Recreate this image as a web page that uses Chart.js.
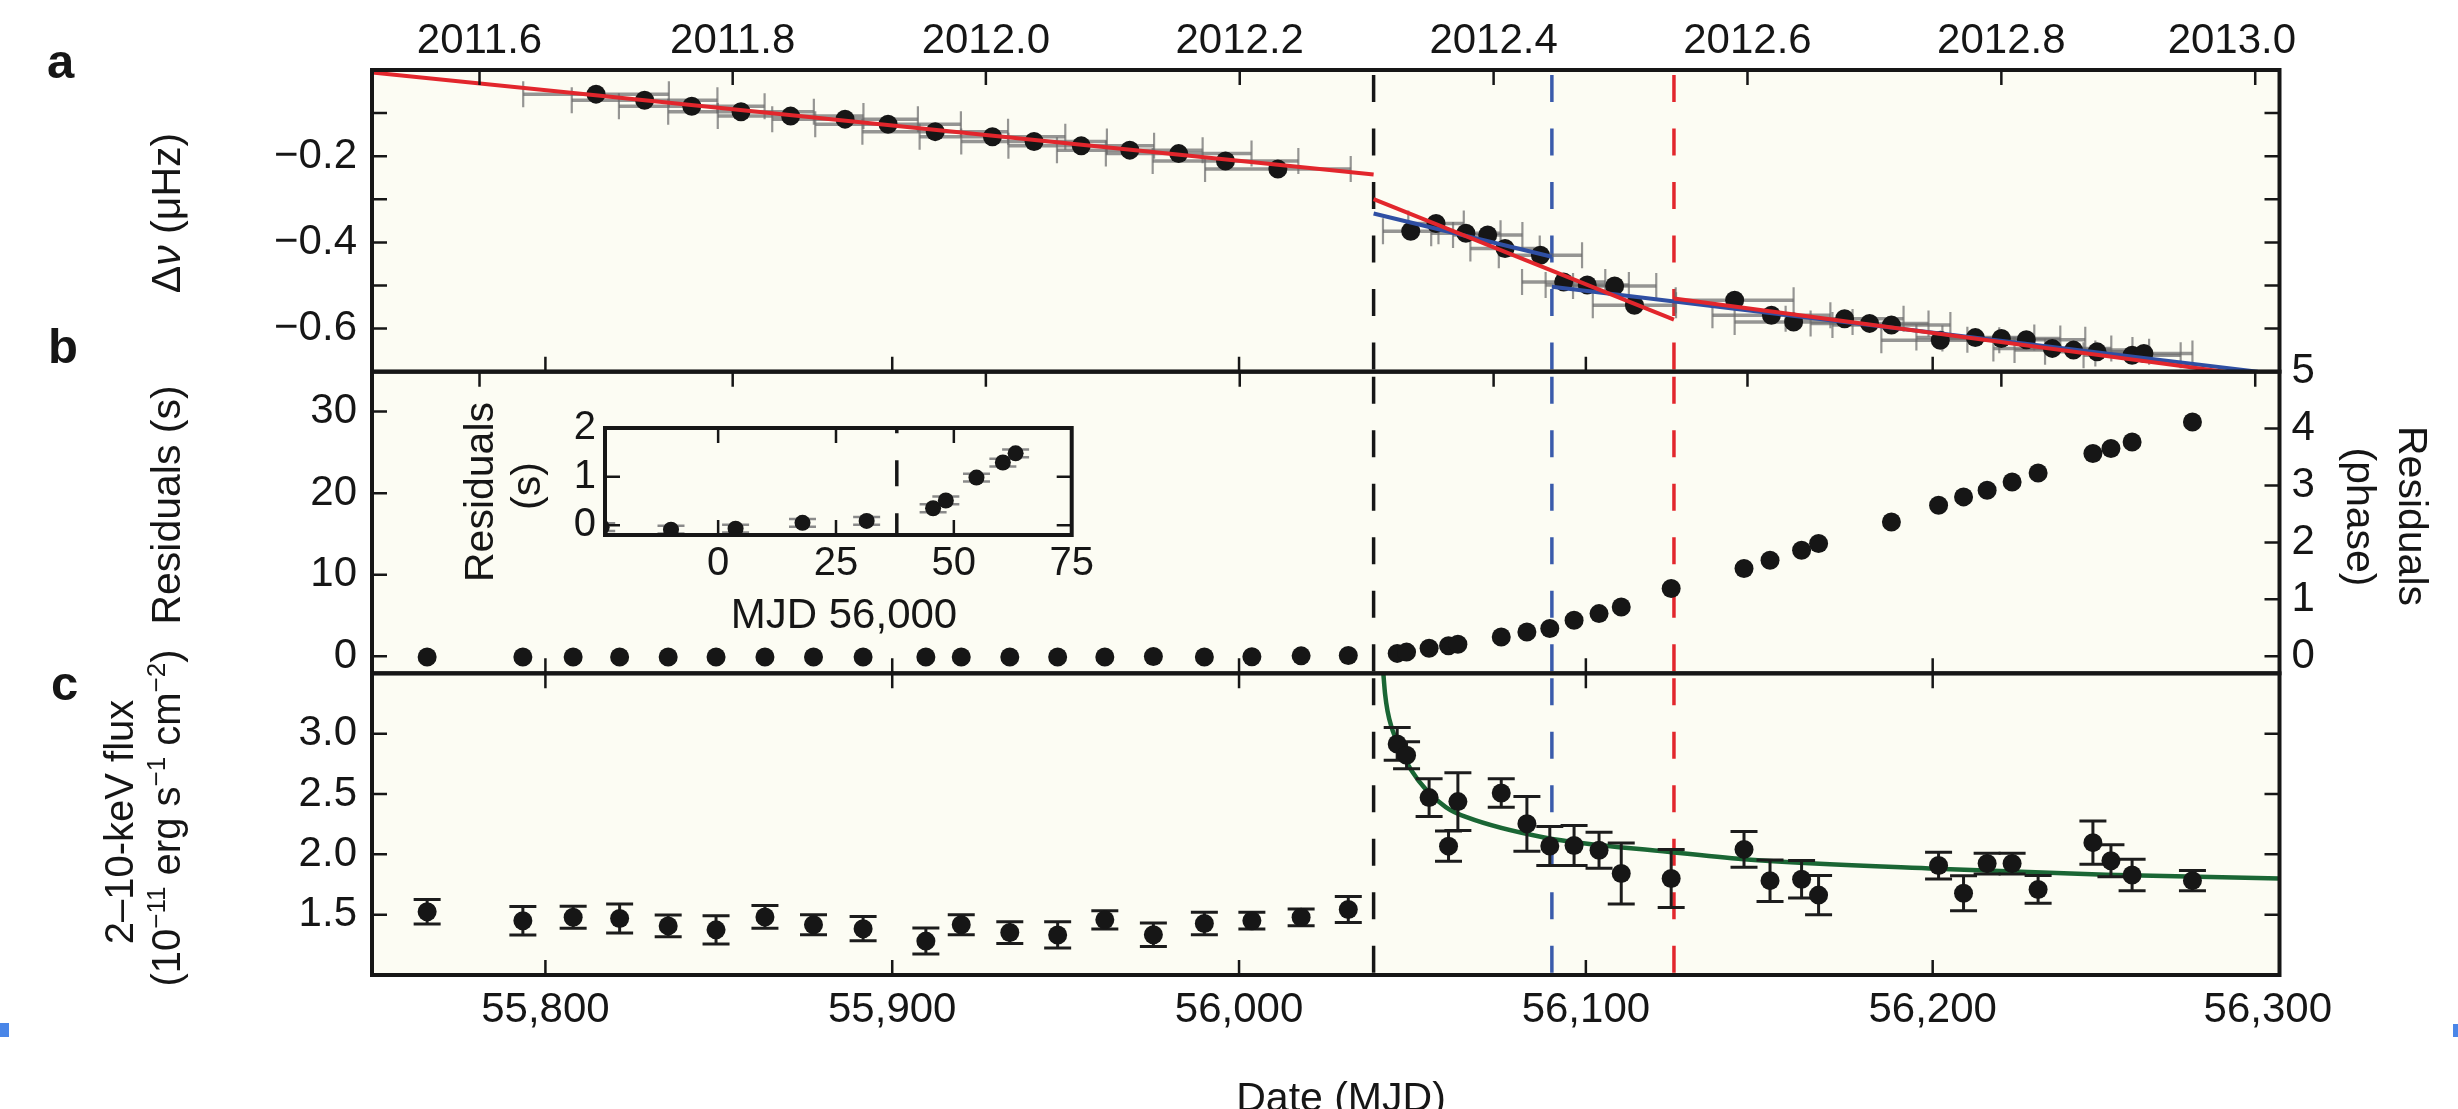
<!DOCTYPE html>
<html>
<head>
<meta charset="utf-8">
<title>Spin frequency, timing residuals and X-ray flux</title>
<script src="https://cdn.jsdelivr.net/npm/chart.js@4.4.1/dist/chart.umd.min.js"></script>
<style>
  html, body { margin: 0; padding: 0; background: #ffffff; }
  #figure { position: relative; width: 2458px; height: 1109px; overflow: hidden; }
  #figure canvas { position: absolute; }
  #main { left: 0; top: 0; }
  #inset { left: 480px; top: 395px; }
</style>
</head>
<body>
<div id="figure">
  <canvas id="main" width="2458" height="1109"></canvas>
  <canvas id="inset" width="620" height="245"></canvas>
</div>
<script>
// ---------- tick positions and labels ----------
const mjdTicks = [55800, 55900, 56000, 56100, 56200, 56300];
const mjdTickLabels = ['55,800', '55,900', '56,000', '56,100', '56,200', '56,300'];
const yearTicks = [2011.6, 2011.8, 2012.0, 2012.2, 2012.4, 2012.6, 2012.8, 2013.0];
const yearTickLabels = ['2011.6', '2011.8', '2012.0', '2012.2', '2012.4', '2012.6', '2012.8', '2013.0'];
const dnuTicks = [-0.6, -0.5, -0.4, -0.3, -0.2, -0.1];
const dnuTickLabels = ['\u22120.6', '', '\u22120.4', '', '\u22120.2', ''];
const residualTicks = [0, 10, 20, 30];
const residualTickLabels = ['0', '10', '20', '30'];
const phaseTicks = [0, 1, 2, 3, 4, 5];
const phaseTickLabels = ['0', '1', '2', '3', '4', '5'];
const fluxTicks = [1.5, 2.0, 2.5, 3.0];
const fluxTickLabels = ['1.5', '2.0', '2.5', '3.0'];
const insetXTicks = [0, 25, 50, 75];
const insetXTickLabels = ['0', '25', '50', '75'];
const insetYTicks = [0, 1, 2];
const insetYTickLabels = ['0', '1', '2'];

// ---------- event epochs (MJD): glitch, and the two later markers ----------
const eventMJD = [56038.8, 56090.2, 56125.4];
const eventColors = ['#161616', '#3a5bab', '#e2262c'];
const insetEventDay = 37.9;          // glitch epoch in the inset, days after MJD 56,000
const PULSE_PERIOD_S = 6.979;        // converts timing residuals between seconds and phase

// ---------- a: frequency offsets ----------
const dnuMJD = [55814.6, 55828.6, 55842.2, 55856.4, 55870.7, 55886.4, 55898.8, 55912.4, 55928.9, 55940.9,
                55954.5, 55968.5, 55982.6, 55996.1, 56011.2,
                56049.5, 56056.8, 56065.4, 56071.7, 56076.7, 56086.9, 56093.6, 56100.4, 56108.3, 56114.0,
                56142.9, 56153.5, 56159.9, 56174.6, 56181.8, 56188.1, 56202.2, 56212.3, 56219.8, 56227.0,
                56234.5, 56240.6, 56247.4, 56257.5, 56260.9];
const dnuValues = [-0.056, -0.070, -0.084, -0.097, -0.107, -0.114, -0.126, -0.143, -0.155, -0.166,
                   -0.176, -0.186, -0.194, -0.211, -0.230,
                   -0.374, -0.356, -0.379, -0.383, -0.414, -0.430, -0.492, -0.499, -0.501, -0.546,
                   -0.534, -0.569, -0.585, -0.577, -0.588, -0.592, -0.627, -0.621, -0.623, -0.626,
                   -0.646, -0.650, -0.654, -0.662, -0.658];
const dnuHalfSpanDays = [21, 21, 21, 21, 21, 21, 21, 21, 21, 21,
                         21, 21, 21, 21, 21,
                         8, 8, 10, 10, 10, 12, 12, 12, 12, 12,
                         17, 17, 17, 17, 17, 17, 17, 17, 17, 17,
                         17, 17, 15, 14, 14];
const redFitPre  = [[55750.0, -0.006], [56038.8, -0.2425]];
const redFitMid  = [[56038.8, -0.2997], [56125.4, -0.579]];
const redFitLate = [[56125.4, -0.530], [56284.0, -0.700]];
const blueFitMid  = [[56038.8, -0.333], [56090.2, -0.4335]];
const blueFitLate = [[56090.2, -0.503], [56293.7, -0.700]];

// ---------- b: timing residuals (s) ----------
const timingMJD = [55765.9, 55793.5, 55808.0, 55821.4, 55835.4, 55849.2, 55863.3, 55877.3, 55891.6, 55909.7,
                   55919.9, 55933.9, 55947.7, 55961.3, 55975.3, 55990.0, 56003.7, 56017.9, 56031.5,
                   56045.6, 56048.3, 56054.8, 56060.4, 56063.1, 56075.6, 56083.0, 56089.6, 56096.6, 56103.8,
                   56110.2, 56124.6, 56145.6, 56153.1, 56162.2, 56167.1, 56188.1, 56201.7, 56208.9, 56215.7,
                   56222.9, 56230.4, 56246.2, 56251.4, 56257.5, 56274.9];
const residualSec = [-0.10, -0.10, -0.10, -0.10, -0.10, -0.10, -0.10, -0.10, -0.10, -0.10,
                     -0.10, -0.10, -0.10, -0.10, -0.04, -0.09, -0.07, 0.05, 0.09,
                     0.35, 0.51, 0.98, 1.29, 1.48, 2.37, 2.98, 3.40, 4.41, 5.23,
                     6.05, 8.30, 10.75, 11.77, 13.00, 13.82, 16.47, 18.52, 19.54, 20.36,
                     21.37, 22.48, 24.86, 25.47, 26.28, 28.73];
const residualErrSec = [0.08, 0.08, 0.08, 0.08, 0.08, 0.08, 0.08, 0.08, 0.08, 0.08,
                        0.08, 0.08, 0.08, 0.08, 0.08, 0.08, 0.08, 0.08, 0.08,
                        0.08, 0.08, 0.08, 0.08, 0.08, 0.08, 0.08, 0.08, 0.08, 0.08,
                        0.08, 0.08, 0.08, 0.08, 0.08, 0.08, 0.08, 0.08, 0.08, 0.08,
                        0.08, 0.08, 0.08, 0.08, 0.08, 0.08];

// ---------- c: 2-10 keV flux ----------
const xrayMJD = [55765.9, 55793.5, 55808.0, 55821.4, 55835.4, 55849.2, 55863.3, 55877.3, 55891.6, 55909.7,
                 55919.9, 55933.9, 55947.7, 55961.3, 55975.3, 55990.0, 56003.7, 56017.9, 56031.5,
                 56045.6, 56048.3, 56054.8, 56060.4, 56063.1, 56075.6, 56083.0, 56089.6, 56096.6, 56103.8,
                 56110.2, 56124.6, 56145.6, 56153.1, 56162.2, 56167.1, 56201.7, 56208.9, 56215.7,
                 56222.9, 56230.4, 56246.2, 56251.4, 56257.5, 56274.9];
const fluxValues = [1.524, 1.449, 1.478, 1.468, 1.407, 1.374, 1.481, 1.417, 1.384, 1.281,
                    1.417, 1.352, 1.332, 1.457, 1.334, 1.427, 1.450, 1.478, 1.543,
                    2.915, 2.821, 2.470, 2.068, 2.437, 2.509, 2.253, 2.069, 2.073, 2.034,
                    1.841, 1.800, 2.041, 1.782, 1.793, 1.662, 1.907, 1.678, 1.924,
                    1.924, 1.709, 2.097, 1.947, 1.829, 1.782];
const fluxErrors = [0.101, 0.118, 0.091, 0.120, 0.090, 0.118, 0.094, 0.083, 0.100, 0.108,
                    0.083, 0.090, 0.109, 0.076, 0.097, 0.093, 0.069, 0.069, 0.107,
                    0.136, 0.111, 0.156, 0.125, 0.239, 0.118, 0.227, 0.162, 0.166, 0.150,
                    0.252, 0.240, 0.148, 0.172, 0.155, 0.162, 0.111, 0.145, 0.086,
                    0.086, 0.115, 0.180, 0.133, 0.131, 0.083];
const fluxDecayCurve = [[56041.3, 3.62], [56041.66, 3.48], [56042.1, 3.33], [56042.8, 3.19], [56043.9, 3.06],
                        [56046.2, 2.89], [56049.6, 2.70], [56054.1, 2.53], [56059.7, 2.39], [56065.4, 2.31],
                        [56088.0, 2.14], [56124.2, 2.02], [56145.6, 1.96], [56201.0, 1.88], [56250.0, 1.83],
                        [56300.0, 1.80]];

// ---------- styling ----------
const FONT = "'Liberation Sans', Arial, Helvetica, sans-serif";
const INK = '#161616';
const PANEL_FILL = '#fcfcf3';
const TICK_LEN = 15;
const RED = '#e2262c';
const BLUE = '#2f4fa3';
const GREEN = '#1a6634';
Chart.defaults.font.family = FONT;
Chart.defaults.color = INK;

const MJD_RANGE = [55750, 56300];
const PANEL_RANGES = {
  ya: [-0.7, 0.0],
  yb: [-0.3 * PULSE_PERIOD_S, 5 * PULSE_PERIOD_S],
  yc: [1.0, 3.5]
};

function yearToMJD(year) {
  const y0 = Math.floor(year + 1e-9);
  const start = Date.UTC(y0, 0, 1) / 86400000 + 40587;
  const end = Date.UTC(y0 + 1, 0, 1) / 86400000 + 40587;
  return start + (year - y0) * (end - start);
}
const pts = (xs, ys) => xs.map((x, i) => ({ x, y: ys[i] }));
const pairs = arr => arr.map(([x, y]) => ({ x, y }));
const fixedTicks = values => scale => { scale.ticks = values.map(value => ({ value })); };
const hiddenGrid = { display: false, drawTicks: false };
const noBorder = { display: false };
const labelsFrom = (labels, tail) => (v, i) => labels[i] + (tail && i === labels.length - 1 ? tail : '');

// ---------- error bars drawn beneath each dataset's points ----------
const errorBars = {
  id: 'errorBars',
  beforeDatasetDraw(chart, args) {
    const ds = chart.data.datasets[args.index];
    if (!ds.errX && !ds.errY) return;
    const xs = chart.scales[ds.xAxisID || 'x'];
    const ys = chart.scales[ds.yAxisID || 'y'];
    const st = ds.errStyle;
    const ctx = chart.ctx;
    ctx.save();
    ctx.beginPath();
    ctx.rect(xs.left, ys.top, xs.right - xs.left, ys.bottom - ys.top);
    ctx.clip();
    ctx.strokeStyle = st.color;
    ds.data.forEach((p, i) => {
      const px = xs.getPixelForValue(p.x);
      const py = ys.getPixelForValue(p.y);
      if (ds.errY) {
        const y1 = ys.getPixelForValue(p.y + ds.errY[i]);
        const y2 = ys.getPixelForValue(p.y - ds.errY[i]);
        ctx.lineWidth = st.lineWidth;
        ctx.beginPath();
        ctx.moveTo(px, y1); ctx.lineTo(px, y2);
        ctx.stroke();
        ctx.lineWidth = st.capWidth;
        ctx.beginPath();
        ctx.moveTo(px - st.cap, y1); ctx.lineTo(px + st.cap, y1);
        ctx.moveTo(px - st.cap, y2); ctx.lineTo(px + st.cap, y2);
        ctx.stroke();
      }
      if (ds.errX) {
        const x1 = xs.getPixelForValue(p.x - ds.errX[i]);
        const x2 = xs.getPixelForValue(p.x + ds.errX[i]);
        ctx.lineWidth = st.lineWidth;
        ctx.beginPath();
        ctx.moveTo(x1, py); ctx.lineTo(x2, py);
        ctx.stroke();
        ctx.lineWidth = st.capWidth;
        ctx.beginPath();
        ctx.moveTo(x1, py - st.cap); ctx.lineTo(x1, py + st.cap);
        ctx.moveTo(x2, py - st.cap); ctx.lineTo(x2, py + st.cap);
        ctx.stroke();
      }
    });
    ctx.restore();
  }
};

// ---------- text helpers ----------
function segFont(s, size) {
  const sz = s.sup ? Math.round(size * 0.65) : size;
  return (s.italic ? 'italic ' : '') + (s.bold ? 'bold ' : '') + sz + 'px ' + FONT;
}
function drawLabel(ctx, segs, x, y, angle, size) {
  ctx.save();
  ctx.translate(x, y);
  ctx.rotate(angle);
  ctx.fillStyle = INK;
  ctx.textAlign = 'left';
  ctx.textBaseline = 'alphabetic';
  const widths = segs.map(s => { ctx.font = segFont(s, size); return ctx.measureText(s.t).width; });
  let cx = -widths.reduce((a, b) => a + b, 0) / 2;
  segs.forEach((s, i) => {
    ctx.font = segFont(s, size);
    ctx.fillText(s.t, cx, s.sup ? -size * 0.38 : 0);
    cx += widths[i];
  });
  ctx.restore();
}

function drawTitles(ctx) {
  const up = -Math.PI / 2, down = Math.PI / 2;
  drawLabel(ctx, [{ t: '\u0394' }, { t: '\u03bd', italic: true }, { t: ' (\u03bcHz)' }], 180, 213, up, 41);
  drawLabel(ctx, [{ t: 'Residuals (s)' }], 180, 505, up, 41);
  drawLabel(ctx, [{ t: '2\u201310-keV flux' }], 133, 822, up, 40);
  drawLabel(ctx, [{ t: '(10' }, { t: '\u221211', sup: true }, { t: ' erg s' }, { t: '\u22121', sup: true },
                  { t: ' cm' }, { t: '\u22122', sup: true }, { t: ')' }], 180, 818, up, 40);
  drawLabel(ctx, [{ t: 'Residuals' }], 2399, 516, down, 41);
  drawLabel(ctx, [{ t: '(phase)' }], 2347, 517, down, 41);
  drawLabel(ctx, [{ t: 'Residuals' }], 493, 492, up, 41);
  drawLabel(ctx, [{ t: '(s)' }], 540, 486, up, 41);
  drawLabel(ctx, [{ t: 'MJD 56,000' }], 844, 628, 0, 42);
  drawLabel(ctx, [{ t: 'Date (MJD)' }], 1341, 1111, 0, 41);
  ctx.save();
  ctx.fillStyle = INK;
  ctx.font = 'bold 49px ' + FONT;
  ctx.textAlign = 'left';
  ctx.fillText('a', 47, 78);
  ctx.fillText('b', 48, 363);
  ctx.fillText('c', 51, 700);
  // small blue selection marks at the figure's lower edges
  ctx.fillStyle = '#4a86e8';
  ctx.fillRect(0, 1023, 9, 14);
  ctx.fillRect(2453, 1024, 5, 13);
  ctx.restore();
}

// ---------- panel background, inward ticks, frames ----------
const panelFrames = {
  id: 'panelFrames',
  beforeDraw(chart) {
    const { ctx, chartArea: a } = chart;
    ctx.save();
    ctx.fillStyle = '#ffffff';
    ctx.fillRect(0, 0, chart.width, chart.height);
    ctx.fillStyle = PANEL_FILL;
    ctx.fillRect(a.left, a.top, a.right - a.left, a.bottom - a.top);
    ctx.restore();
  },
  afterDraw(chart) {
    const { ctx } = chart;
    const x = chart.scales.x, xYear = chart.scales.xYear;
    const panels = [
      { left: chart.scales.ya, right: chart.scales.ra, top: xYear, bottom: x },
      { left: chart.scales.yb, right: chart.scales.rb, top: xYear, bottom: x },
      { left: chart.scales.yc, right: chart.scales.rc, top: x, bottom: x }
    ];
    ctx.save();
    ctx.strokeStyle = INK;
    ctx.lineWidth = 2.5;
    for (const p of panels) {
      const top = p.left.top, bottom = p.left.bottom, l = x.left, r = x.right;
      ctx.beginPath();
      p.left.ticks.forEach(t => { const y = p.left.getPixelForValue(t.value); ctx.moveTo(l, y); ctx.lineTo(l + TICK_LEN, y); });
      p.right.ticks.forEach(t => { const y = p.right.getPixelForValue(t.value); ctx.moveTo(r, y); ctx.lineTo(r - TICK_LEN, y); });
      p.top.ticks.forEach(t => { const px = p.top.getPixelForValue(t.value); ctx.moveTo(px, top); ctx.lineTo(px, top + TICK_LEN); });
      p.bottom.ticks.forEach(t => { const px = p.bottom.getPixelForValue(t.value); ctx.moveTo(px, bottom); ctx.lineTo(px, bottom - TICK_LEN); });
      ctx.stroke();
    }
    ctx.lineWidth = 4;
    for (const p of panels) {
      ctx.strokeRect(x.left, p.left.top, x.right - x.left, p.left.bottom - p.left.top);
    }
    ctx.restore();
    drawTitles(ctx);
  }
};

// ---------- datasets ----------
const datasets = [];
const fitLine = (data, color, order) => ({
  data: pairs(data), xAxisID: 'x', yAxisID: 'ya', showLine: true, pointRadius: 0,
  borderColor: color, borderWidth: 4, order
});
datasets.push(fitLine(redFitPre, RED, 0));
datasets.push(fitLine(redFitMid, RED, 0));
datasets.push(fitLine(redFitLate, RED, 0));
datasets.push(fitLine(blueFitMid, BLUE, 1));
datasets.push(fitLine(blueFitLate, BLUE, 1));
datasets.push({
  data: pts(dnuMJD, dnuValues), xAxisID: 'x', yAxisID: 'ya',
  pointRadius: 9.5, backgroundColor: INK, borderWidth: 0, order: 2,
  errX: dnuHalfSpanDays,
  errStyle: { color: 'rgba(105,105,105,0.7)', lineWidth: 3.5, capWidth: 2.2, cap: 13 }
});
datasets.push({
  data: pts(timingMJD, residualSec), xAxisID: 'x', yAxisID: 'yb',
  pointRadius: 9.5, backgroundColor: INK, borderWidth: 0, order: 2
});
datasets.push({
  data: pts(xrayMJD, fluxValues), xAxisID: 'x', yAxisID: 'yc',
  pointRadius: 9.5, backgroundColor: INK, borderWidth: 0, order: 2,
  errY: fluxErrors,
  errStyle: { color: '#1c1c1c', lineWidth: 3, capWidth: 3, cap: 13.5 }
});
datasets.push({
  data: pairs(fluxDecayCurve), xAxisID: 'x', yAxisID: 'yc', showLine: true, pointRadius: 0,
  borderColor: GREEN, borderWidth: 4.5, cubicInterpolationMode: 'monotone', order: 3
});
// dashed event markers, restarted in every panel
['ya', 'yb', 'yc'].forEach(id => {
  const [lo, hi] = PANEL_RANGES[id];
  eventMJD.forEach((t, k) => {
    datasets.push({
      data: [{ x: t, y: hi }, { x: t, y: lo }], xAxisID: 'x', yAxisID: id,
      showLine: true, pointRadius: 0, borderColor: eventColors[k], borderWidth: 3.5,
      borderDash: [27, 26.5], borderDashOffset: 48.5, order: 9
    });
  });
});

const yLeft = (weight, range, ticks, labels) => ({
  type: 'linear', position: 'left', stack: 'left', stackWeight: 1, weight,
  min: range[0], max: range[1],
  afterBuildTicks: fixedTicks(ticks), afterFit: s => { s.width = 372; },
  grid: hiddenGrid, border: noBorder,
  ticks: { font: { size: 42 }, color: INK, padding: 15, autoSkip: false, callback: labelsFrom(labels) }
});
const yRight = (weight, range, ticks, labels) => ({
  type: 'linear', position: 'right', stack: 'right', stackWeight: 1, weight,
  min: range[0], max: range[1],
  afterBuildTicks: fixedTicks(ticks), afterFit: s => { s.width = 178.5; },
  grid: hiddenGrid, border: noBorder,
  ticks: labels
    ? { font: { size: 42 }, color: INK, padding: 12, autoSkip: false, callback: labelsFrom(labels) }
    : { display: false }
});

new Chart(document.getElementById('main'), {
  type: 'scatter',
  data: { datasets },
  options: {
    responsive: false, animation: false, devicePixelRatio: 1, events: [],
    layout: { padding: 0 },
    plugins: { legend: { display: false }, tooltip: { enabled: false } },
    scales: {
      x: {
        type: 'linear', position: 'bottom', min: MJD_RANGE[0], max: MJD_RANGE[1],
        afterBuildTicks: fixedTicks(mjdTicks), afterFit: s => { s.height = 134; },
        grid: hiddenGrid, border: noBorder,
        ticks: { font: { size: 42 }, color: INK, padding: 10, maxRotation: 0, minRotation: 0,
                 autoSkip: false, callback: labelsFrom(mjdTickLabels, '  ') }
      },
      xYear: {
        type: 'linear', position: 'top', min: MJD_RANGE[0], max: MJD_RANGE[1],
        afterBuildTicks: fixedTicks(yearTicks.map(yearToMJD)), afterFit: s => { s.height = 70; },
        grid: hiddenGrid, border: noBorder,
        ticks: { font: { size: 42 }, color: INK, padding: 3, maxRotation: 0, minRotation: 0,
                 autoSkip: false, callback: labelsFrom(yearTickLabels, '    ') }
      },
      yc: yLeft(1, PANEL_RANGES.yc, fluxTicks, fluxTickLabels),
      yb: yLeft(2, PANEL_RANGES.yb, residualTicks, residualTickLabels),
      ya: yLeft(3, PANEL_RANGES.ya, dnuTicks, dnuTickLabels),
      ra: yRight(1, PANEL_RANGES.ya, dnuTicks, null),
      rb: yRight(2, [PANEL_RANGES.yb[0] / PULSE_PERIOD_S, PANEL_RANGES.yb[1] / PULSE_PERIOD_S], phaseTicks, phaseTickLabels),
      rc: yRight(3, PANEL_RANGES.yc, fluxTicks, null)
    }
  },
  plugins: [errorBars, panelFrames]
});

// ---------- inset: residuals around the glitch ----------
const INSET_ORIGIN = 56000;
const insetIdx = timingMJD.map((t, i) => i).filter(i => timingMJD[i] - INSET_ORIGIN > -30 && timingMJD[i] - INSET_ORIGIN < 80);
const insetFrame = {
  id: 'insetFrame',
  afterDraw(chart) {
    const { ctx } = chart;
    const x = chart.scales.x, y = chart.scales.y;
    ctx.save();
    ctx.strokeStyle = INK;
    ctx.lineWidth = 2.5;
    ctx.beginPath();
    x.ticks.forEach(t => {
      const px = x.getPixelForValue(t.value);
      ctx.moveTo(px, y.top); ctx.lineTo(px, y.top + TICK_LEN);
      ctx.moveTo(px, y.bottom); ctx.lineTo(px, y.bottom - TICK_LEN);
    });
    y.ticks.forEach(t => {
      const py = y.getPixelForValue(t.value);
      ctx.moveTo(x.left, py); ctx.lineTo(x.left + TICK_LEN, py);
      ctx.moveTo(x.right, py); ctx.lineTo(x.right - TICK_LEN, py);
    });
    ctx.stroke();
    ctx.lineWidth = 4;
    ctx.strokeRect(x.left, y.top, x.right - x.left, y.bottom - y.top);
    ctx.restore();
  }
};

new Chart(document.getElementById('inset'), {
  type: 'scatter',
  data: {
    datasets: [
      {
        data: [{ x: insetEventDay, y: 2 }, { x: insetEventDay, y: -0.2 }],
        showLine: true, pointRadius: 0, borderColor: INK, borderWidth: 3.5,
        borderDash: [26, 27], borderDashOffset: 20.7, order: 5
      },
      {
        data: insetIdx.map(i => ({ x: timingMJD[i] - INSET_ORIGIN, y: residualSec[i] })),
        errY: insetIdx.map(i => residualErrSec[i]),
        errStyle: { color: '#8a8a8a', lineWidth: 2.5, capWidth: 2.5, cap: 13.5 },
        pointRadius: 8, backgroundColor: INK, borderWidth: 0, order: 0
      }
    ]
  },
  options: {
    responsive: false, animation: false, devicePixelRatio: 1, events: [],
    layout: { padding: { top: 26.7, right: 28.3, left: 0, bottom: 0 } },
    plugins: { legend: { display: false }, tooltip: { enabled: false } },
    scales: {
      x: {
        type: 'linear', min: -24, max: 75,
        afterBuildTicks: fixedTicks(insetXTicks), afterFit: s => { s.height = 105; },
        grid: hiddenGrid, border: noBorder,
        ticks: { font: { size: 40 }, color: INK, padding: 5, maxRotation: 0, autoSkip: false,
                 callback: labelsFrom(insetXTickLabels) }
      },
      y: {
        type: 'linear', min: -0.2, max: 2,
        afterBuildTicks: fixedTicks(insetYTicks), afterFit: s => { s.width = 125; },
        grid: hiddenGrid, border: noBorder,
        ticks: { font: { size: 40 }, color: INK, padding: 9, autoSkip: false,
                 callback: labelsFrom(insetYTickLabels) }
      }
    }
  },
  plugins: [errorBars, insetFrame]
});
</script>
</body>
</html>
